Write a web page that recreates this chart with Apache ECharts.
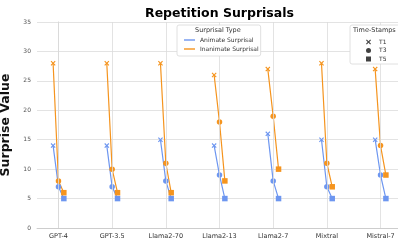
<!DOCTYPE html>
<html>
<head>
<meta charset="utf-8">
<script src="https://cdn.jsdelivr.net/npm/echarts@6/dist/echarts.min.js"></script>
<style>
    html, body { margin: 0; padding: 0; background: #fff; }
    #chart { width: 398px; height: 242px; }
</style>
</head>
<body>
<div id="chart"></div>
<script>
// models on the x axis
const models = ['GPT-4', 'GPT-3.5', 'Llama2-70', 'Llama2-13', 'Llama2-7', 'Mixtral', 'Mistral-7']
const stamps = ['T1', 'T3', 'T5']
const yTicks = [0, 5, 10, 15, 20, 25, 30, 35]

// surprisal values per time-stamp, one entry per model
const animateT1 = [14, 14, 15, 14, 16, 15, 15]
const animateT3 = [7, 7, 8, 9, 8, 7, 9]
const animateT5 = [5, 5, 5, 5, 5, 5, 5]
const inanimateT1 = [28, 28, 28, 26, 27, 28, 27]
const inanimateT3 = [8, 10, 11, 18, 19, 11, 14]
const inanimateT5 = [6, 6, 6, 8, 10, 7, 9]

const font = 'DejaVu Sans'
const gridColor = '#dcdcdc'
const xMark = 'path://M0,1.6 L1.6,0 L5,3.4 L8.4,0 L10,1.6 L6.6,5 L10,8.4 L8.4,10 L5,6.6 L1.6,10 L0,8.4 L3.4,5 Z'
const stampSymbol = { T1: xMark, T3: 'circle', T5: 'rect' }
const stampSize = { T1: 5, T3: 5.5, T5: 5.5 }
const stampShift = { T1: -0.1, T3: 0, T5: 0.1 }

const types = [
    { name: 'Animate Surprisal', color: '#6d96f0', values: [animateT1, animateT3, animateT5] },
    { name: 'Inanimate Surprisal', color: '#f5941e', values: [inanimateT1, inanimateT3, inanimateT5] }
]

let seriesData = []

// vertical grid lines at each model, drawn under the data
seriesData.push({
    type: 'line',
    data: [],
    silent: true,
    z: 1,
    markLine: {
        silent: true,
        symbol: ['none', 'none'],
        label: { show: false },
        lineStyle: { color: gridColor, width: 0.8, type: 'solid' },
        data: models.map((m, i) => ({ xAxis: i }))
    }
})

for (let t of types) {
    models.forEach((m, i) => {
        seriesData.push({
            name: t.name,
            type: 'line',
            color: t.color,
            lineStyle: { width: 1.2, color: t.color },
            itemStyle: { color: t.color },
            symbolKeepAspect: true,
            z: 3,
            data: stamps.map((s, k) => ({
                value: [i + stampShift[s], t.values[k][i]],
                symbol: stampSymbol[s],
                symbolSize: stampSize[s]
            }))
        })
    })
}
// empty series so the time-stamp legend has entries
for (let s of stamps) {
    seriesData.push({ name: s, type: 'scatter', color: '#111', data: [] })
}

let myChart = echarts.init(document.getElementById('chart'), null, { renderer: 'canvas' })

let option = {
    backgroundColor: '#fff',
    animation: false,
    textStyle: { fontFamily: font },
    title: {
        text: 'Repetition Surprisals',
        left: 145,
        top: 7,
        padding: 0,
        textStyle: { fontFamily: font, fontSize: 12.5, fontWeight: 'bold', color: '#000' }
    },
    grid: { left: 37, top: 22, width: 365, height: 206, outerBoundsMode: 'none', containLabel: false },
    xAxis: {
        type: 'value',
        min: -0.4,
        max: 6.4,
        axisLine: { show: true, lineStyle: { color: '#c8c8c8', width: 0.8 } },
        axisTick: { show: false, customValues: models.map((m, i) => i) },
        axisLabel: {
            customValues: models.map((m, i) => i),
            formatter: v => models[Math.round(v)],
            fontSize: 6.5,
            color: '#333',
            margin: 5,
            fontFamily: font
        },
        splitLine: { show: false }
    },
    yAxis: {
        type: 'value',
        min: 0,
        max: 35,
        interval: 5,
        name: 'Surprise Value',
        nameLocation: 'middle',
        nameGap: 24,
        nameTextStyle: { fontFamily: font, fontSize: 12.5, fontWeight: 'bold', color: '#111' },
        axisLine: { show: true, lineStyle: { color: '#c8c8c8', width: 0.8 } },
        axisTick: { show: false },
        axisLabel: {
            formatter: v => yTicks.includes(v) ? String(v) : '',
            fontSize: 6,
            color: '#555',
            margin: 6,
            fontFamily: font
        },
        splitLine: { show: true, lineStyle: { color: gridColor, width: 0.8 } }
    },
    legend: [
        {
            data: types.map(t => t.name),
            orient: 'vertical',
            left: 177,
            top: 25,
            z: 10,
            padding: [11, 2, 3, 7],
            itemGap: 1,
            itemWidth: 11,
            itemHeight: 1.4,
            icon: 'rect',
            borderColor: '#d8d8d8',
            borderWidth: 0.8,
            borderRadius: 2,
            backgroundColor: '#fff',
            textStyle: { fontFamily: font, fontSize: 6, color: '#333', lineHeight: 8 }
        },
        {
            data: stamps.map(s => ({ name: s, icon: stampSymbol[s] })),
            orient: 'vertical',
            left: 350,
            top: 25,
            z: 10,
            padding: [13, 30, 1, 16],
            itemGap: 0.5,
            itemWidth: 5,
            itemHeight: 5,
            borderColor: '#d8d8d8',
            borderWidth: 0.8,
            borderRadius: 2,
            backgroundColor: '#fff',
            textStyle: { fontFamily: font, fontSize: 6, color: '#333', lineHeight: 8, padding: [0, 0, 0, 3] }
        }
    ],
    graphic: [
        {
            type: 'text', left: 195, top: 27, z: 100,
            style: { text: 'Surprisal Type', fontFamily: font, fontSize: 6.5, fill: '#333' }
        },
        {
            type: 'text', left: 353, top: 27, z: 100,
            style: { text: 'Time-Stamps', fontFamily: font, fontSize: 6.5, fill: '#333' }
        }
    ],
    series: seriesData
}

myChart.setOption(option, true)
</script>
</body>
</html>
